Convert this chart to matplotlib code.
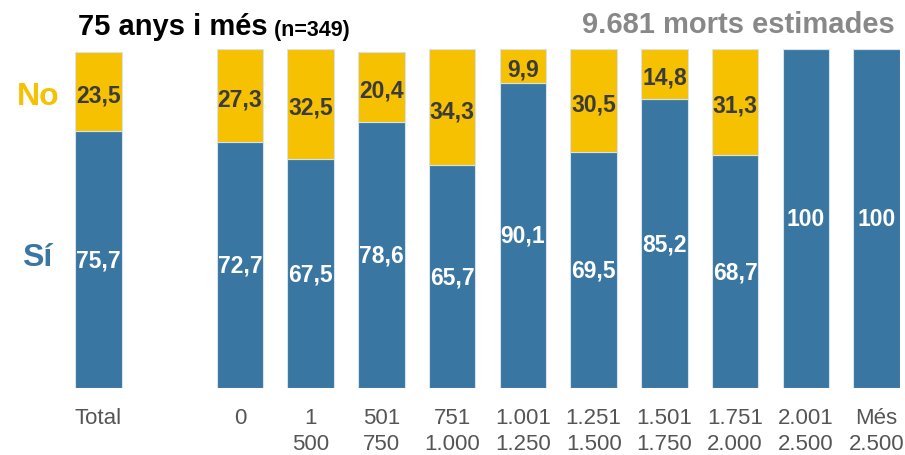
import matplotlib
matplotlib.use("Agg")
import matplotlib.pyplot as plt
import numpy as np

categories = ["Total", "0", "1\n500", "501\n750", "751\n1.000", "1.001\n1.250",
              "1.251\n1.500", "1.501\n1.750", "1.751\n2.000", "2.001\n2.500", "Més\n2.500"]
si_values = [75.7, 72.7, 67.5, 78.6, 65.7, 90.1, 69.5, 85.2, 68.7, 100, 100]
no_values = [23.5, 27.3, 32.5, 20.4, 34.3, 9.9, 30.5, 14.8, 31.3, 0, 0]
positions = [0, 2, 3, 4, 5, 6, 7, 8, 9, 10, 11]

BLUE = "#3976a1"
YELLOW = "#f6c100"
DARK = "#3b3b3b"

plt.rcParams['font.family'] = ['Liberation Sans', 'DejaVu Sans']

fig = plt.figure(figsize=(9.05, 4.56), dpi=100)
ax = fig.add_axes([75/905, 1-389/456, 825/905, (389-50)/456])

width = 0.66
ax.bar(positions, si_values, width=width, color=BLUE, edgecolor="#d6e2ec", linewidth=0.8)
ax.bar(positions, no_values, width=width, bottom=si_values, color=YELLOW, edgecolor="#d6e2ec", linewidth=0.8)

for x, s, n in zip(positions, si_values, no_values):
    lab = f"{s:g}".replace(".", ",")
    ax.text(x, s/2, lab, ha="center", va="center", color="white",
            fontsize=16.5, fontweight="bold")
    if n > 0:
        labn = f"{n:g}".replace(".", ",")
        ax.text(x, s + n/2 - 1, labn, ha="center", va="center", color=DARK,
                fontsize=16.5, fontweight="bold")

ax.set_xlim(-0.33, 11.33)
ax.set_ylim(0, 100)
ax.set_xticks(positions)
ax.set_xticklabels(categories, fontsize=16, color="#555555", linespacing=1.3,
                   family=['Liberation Sans Narrow', 'Liberation Sans', 'DejaVu Sans'])
ax.tick_params(axis="x", length=0, pad=14)
ax.set_yticks([])
for sp in ax.spines.values():
    sp.set_visible(False)

t1 = fig.text(78/905, 1-35/456, "75 anys i més", fontsize=21, fontweight="bold",
              color="black", ha="left", va="baseline")
ax.annotate(" (n=349)", xy=(1, 0), xycoords=t1, fontsize=15.5, fontweight="bold",
            color="black", ha="left", va="bottom")
fig.text(895/905, 1-33/456, "9.681 morts estimades", fontsize=21, fontweight="bold",
         color="#888888", ha="right", va="baseline")

fig.text(38/905, 1-97/456, "No", fontsize=23, fontweight="bold", color=YELLOW,
         ha="center", va="center")
fig.text(37/905, 1-258/456, "Sí", fontsize=23, fontweight="bold", color=BLUE,
         ha="center", va="center")

fig.savefig("out.png", dpi=100)
